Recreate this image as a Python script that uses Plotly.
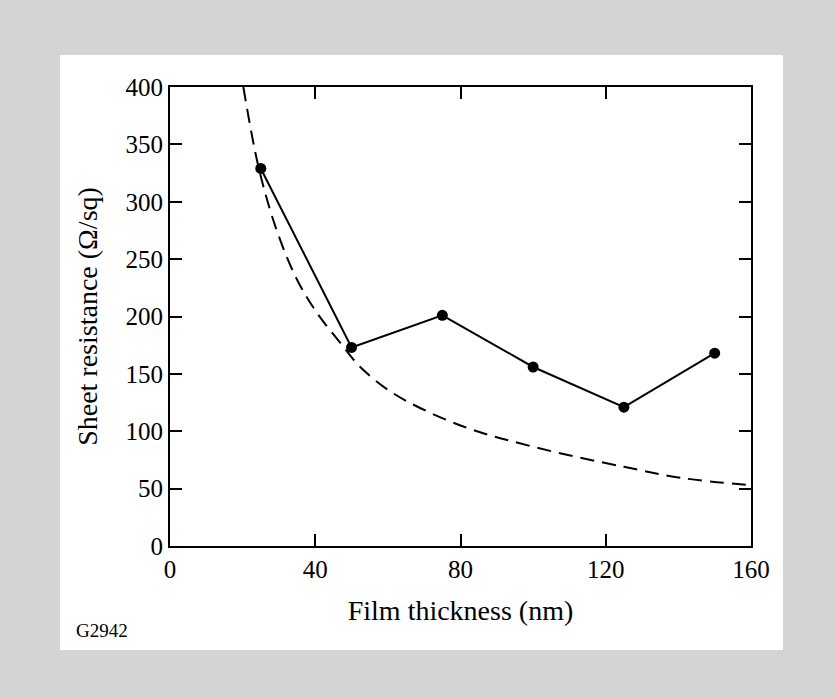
import plotly.graph_objects as go

# Measured data (film thickness nm, sheet resistance ohm/sq)
thickness = [25, 50, 75, 100, 125, 150]
resistance = [329, 173, 201, 156, 121, 168]

# Dashed reference curve
curve_t = [20.2, 24.4, 29.4, 35, 40.5, 46.9, 52.4, 61.5, 80, 100, 125, 141.5, 160]
curve_r = [400, 330, 275, 232, 203, 177, 156, 133, 105, 86.5, 69, 59, 53]

x_ticks = [0, 40, 80, 120, 160]
y_ticks = [0, 50, 100, 150, 200, 250, 300, 350, 400]

FONT = "Liberation Serif"
W, H = 836, 698
L, R, T, B = 170, 85, 87, 152
pw, ph = W - L - R, H - T - B

def px(xp):
    return (xp - L) / pw

def py(yp):
    return (H - B - yp) / ph

fig = go.Figure()
fig.add_trace(go.Scatter(x=curve_t, y=curve_r, mode="lines",
                         line=dict(color="black", width=2, dash="14px,8px", shape="spline"),
                         showlegend=False, cliponaxis=True))
fig.add_trace(go.Scatter(x=thickness, y=resistance, mode="lines+markers",
                         line=dict(color="black", width=2),
                         marker=dict(color="black", size=11),
                         showlegend=False))

axis_common = dict(showline=True, linecolor="black", linewidth=2, mirror="ticks",
                   ticks="inside", ticklen=12, tickwidth=2, tickcolor="black",
                   showgrid=False, zeroline=False,
                   tickfont=dict(family=FONT, size=25, color="black"))

fig.update_xaxes(range=[0, 160], tickvals=x_ticks, ticktext=[str(v) for v in x_ticks],
                 title=dict(text="Film thickness (nm)", font=dict(family=FONT, size=28, color="black"),
                            standoff=18),
                 **axis_common)
fig.update_yaxes(range=[0, 400], tickvals=y_ticks, ticktext=[str(v) for v in y_ticks],
                 title=dict(text="Sheet resistance (Ω/sq)", font=dict(family=FONT, size=28, color="black"),
                            standoff=20),
                 **axis_common)

fig.add_annotation(text="G2942", xref="paper", yref="paper", x=px(130), y=py(630),
                   xanchor="right", yanchor="middle", showarrow=False,
                   font=dict(family=FONT, size=19, color="black"))

fig.add_shape(type="rect", xref="paper", yref="paper", x0=px(60), x1=px(783),
              y0=py(650), y1=py(55), fillcolor="white", line=dict(width=0), layer="below")

fig.update_layout(width=W, height=H, margin=dict(l=L, r=R, t=T, b=B),
                  paper_bgcolor="#d4d4d4", plot_bgcolor="white",
                  font=dict(family=FONT, color="black"))

fig.write_html("out.html", config={"displayModeBar": False},
               post_script="document.body.style.margin='0px';document.body.style.overflow='hidden';")
